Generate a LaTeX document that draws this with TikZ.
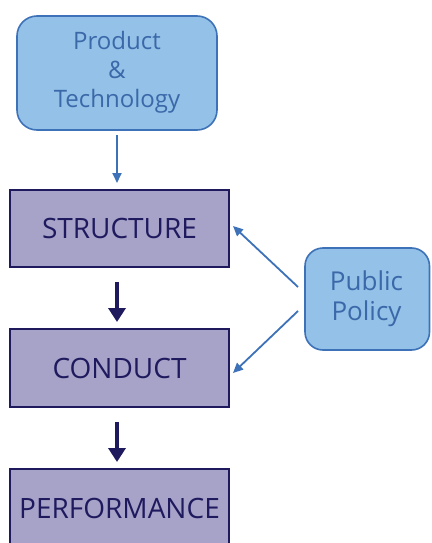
\documentclass[tikz,border=0pt]{standalone}
\usepackage{fontspec}
\setmainfont{Open Sans}
\usetikzlibrary{arrows.meta}
\definecolor{lblue}{HTML}{93C1E8}
\definecolor{bborder}{HTML}{3D72B8}
\definecolor{btext}{HTML}{3B68A8}
\definecolor{lpurple}{HTML}{A7A2C8}
\definecolor{navy}{HTML}{1F1A5E}
\begin{document}
\begin{tikzpicture}[x=1pt,y=-1pt,
  bluebox/.style={draw=bborder,fill=lblue,line width=1.6pt,rounded corners=20pt},
  purplebox/.style={draw=navy,fill=lpurple,line width=1.6pt},
  bluetext/.style={text=btext,align=center,font=\fontsize{24}{29}\selectfont},
  purpletext/.style={text=navy,font=\fontsize{28}{34}\selectfont},
  thinarrow/.style={draw=bborder,line width=1.8pt,-{Triangle[width=9pt,length=10pt]}},
  thickarrow/.style={draw=navy,line width=4.5pt,-{Triangle[width=17pt,length=14pt]}}]
\useasboundingbox (0,0) rectangle (431,543);
\begin{scope}
\clip (0,0) rectangle (431,543);
\draw[bluebox] (17,16) rectangle (217,130);
\node[bluetext] (prod) at (117,72) {Product\\\&\\Technology};
\coordinate (prodS) at (117,135);
\draw[purplebox] (10,190) rectangle (229,267);
\node[purpletext] (str) at (119.5,228.5) {STRUCTURE};
\draw[purplebox] (10,329) rectangle (229,407);
\node[purpletext] (con) at (119.5,368) {CONDUCT};
\draw[purplebox] (10,469) rectangle (229,560);
\node[purpletext] (per) at (119.5,508) {PERFORMANCE};
\draw[bluebox,rounded corners=18pt] (305,248) rectangle (429.5,350);
\node[bluetext,font=\fontsize{26}{30}\selectfont] (pol) at (366.5,299) {Public\\Policy};
\coordinate (strT) at (117,183);
\coordinate (strB) at (117,282);
\coordinate (conT) at (117,322);
\coordinate (conB) at (117,422);
\coordinate (perT) at (117,462);
\coordinate (polA) at (298,287);
\coordinate (polB) at (298,311);
\coordinate (strE) at (233,226);
\coordinate (conE) at (233,373);
\draw[thinarrow] (prodS) -- (strT);
\draw[thickarrow] (strB) -- (conT);
\draw[thickarrow] (conB) -- (perT);
\draw[thinarrow] (polA) -- (strE);
\draw[thinarrow] (polB) -- (conE);
\end{scope}
\end{tikzpicture}
\end{document}
